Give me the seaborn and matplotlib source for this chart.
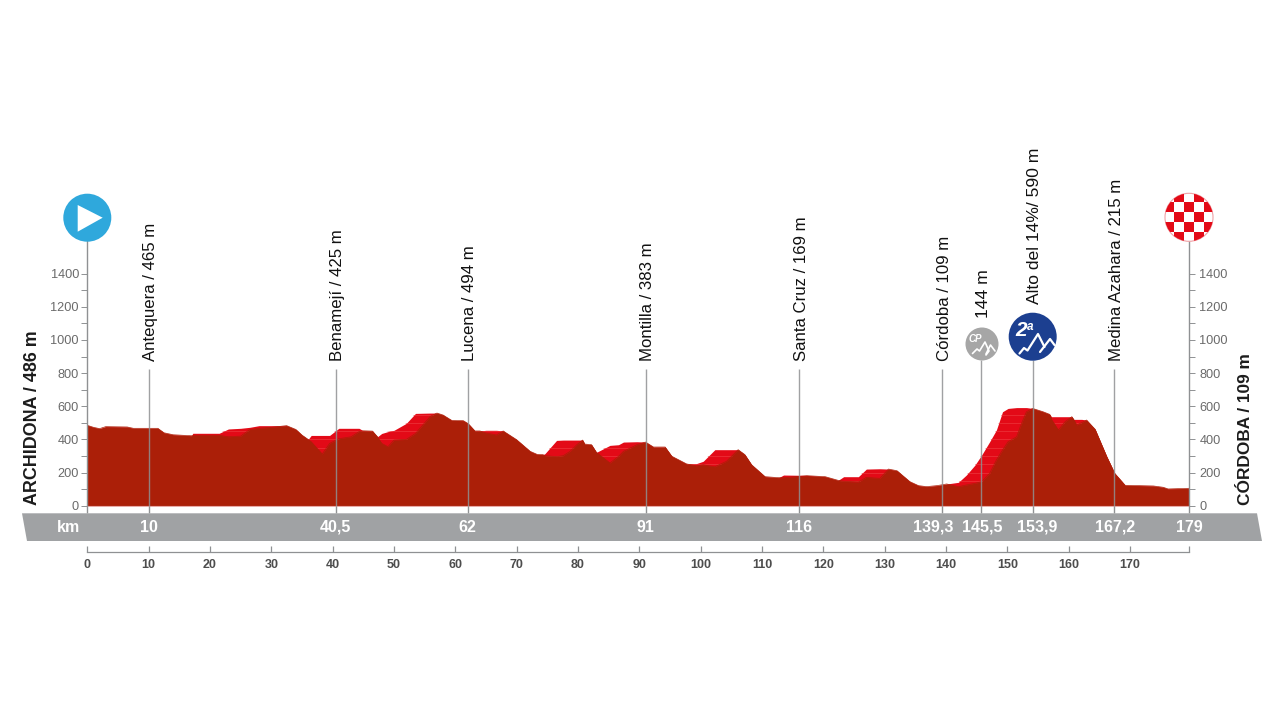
"""
Stage profile Archidona - Cordoba, elevation against distance
"""
import matplotlib
matplotlib.use("Agg")
import matplotlib.pyplot as plt
import pandas as pd
import seaborn as sns
from matplotlib.patches import Circle, Polygon, Rectangle
from matplotlib.ticker import MultipleLocator

# Profile: the bright surface and the dark front
km = [0, 1, 2, 3, 6.5, 7.5, 11.5, 12.5, 14, 17, 17.2, 21.5, 23, 25, 26.5, 28, 30, 32.5,
      34, 35, 36, 36.5, 38.3, 39.5, 41, 43, 44.3, 45, 46.5, 47.3, 48, 49, 50, 52, 53.5,
      55.9, 57, 58, 59.4, 61.3, 62.1, 63.2, 64, 65, 66.7, 67.8, 70, 72.2, 73.3, 74.3,
      74.6, 76.5, 77.6, 78.7, 79.8, 80.75, 81.1, 82.2, 83, 85.2, 86.6, 87.4, 89.6, 91,
      92.3, 94.2, 95.3, 97.7, 99.3, 100.4, 102.3, 104.2, 106.1, 107.2, 108.3, 110.5,
      112.7, 113.5, 117.3, 120.3, 122.4, 123.3, 125.7, 127, 129.2, 130.6, 132, 134.1,
      135.5, 136.8, 138.5, 140.1, 142, 143.3, 144.7, 145.8, 147.1, 148.2, 149.2, 150.1,
      151.5, 152.3, 153.1, 154.1, 155.8, 156.9, 157.2, 158.3, 159.4, 160.5, 160.8, 161.3,
      162.1, 162.9, 164.3, 166.2, 167.5, 169.2, 173.8, 175.4, 176.2, 179.6]
surface = [485, 473, 465, 477, 475, 467, 467, 440, 428, 422, 437, 437, 463, 467, 473, 483, 483, 483,
           460, 426, 400, 424, 424, 424, 467, 467, 467, 452, 450, 416, 436, 447, 455, 497, 557,
           559, 559, 547, 515, 513, 495, 451, 451, 455, 455, 451, 398, 328, 310, 308,
           314, 394, 396, 396, 396, 396, 372, 368, 322, 364, 368, 384, 386, 384,
           354, 354, 298, 252, 254, 268, 338, 338, 338, 308, 247, 175,
           169, 185, 183, 175, 153, 175, 175, 221, 223, 221, 211, 145,
           121, 115, 121, 131, 141, 185, 245, 306, 386, 457, 567, 587,
           592, 592, 592, 587, 567, 551, 537, 537, 537, 537, 521, 521,
           521, 517, 461, 296, 195, 123, 119, 111, 101, 105]
front = [485, 473, 465, 477, 475, 467, 467, 440, 428, 422, 425, 425, 416, 420, 460, 467, 473, 483,
         460, 426, 400, 386, 312, 376, 404, 416, 447, 452, 450, 416, 376, 356, 396, 400, 436,
         539, 559, 547, 515, 513, 495, 451, 451, 439, 427, 451, 398, 328, 310, 308,
         302, 296, 302, 328, 368, 396, 372, 368, 322, 258, 298, 328, 368, 384,
         354, 354, 298, 252, 241, 247, 235, 268, 338, 308, 247, 175,
         169, 169, 181, 175, 153, 147, 143, 171, 165, 221, 211, 145,
         121, 115, 121, 131, 115, 125, 135, 145, 195, 276, 336, 386,
         416, 497, 567, 587, 567, 551, 520, 457, 507, 537, 521, 487,
         501, 517, 461, 296, 195, 123, 119, 111, 101, 105]

# Intermediate points
place_names = ["Antequera / 465 m", "Benamejí / 425 m", "Lucena / 494 m", "Montilla / 383 m",
               "Santa Cruz / 169 m", "Córdoba / 109 m", "144 m", "Alto del 14%/ 590 m",
               "Medina Azahara / 215 m"]
place_km = [10, 40.5, 62, 91, 116, 139.4, 145.7, 154.1, 167.35]
place_km_labels = ["10", "40,5", "62", "91", "116", "139,3", "145,5", "153,9", "167,2"]

x_ticks = list(range(0, 180, 10))
y_ticks = list(range(0, 1500, 200))
finish_km = 179.6
gradient_levels = [50, 100, 150, 200, 250, 300, 350, 400, 450, 500, 550]

GREY_LINE = "#8f9193"
BAND_GREY = "#a0a2a4"
BRIGHT_RED = "#e30a17"
DARK_RED = "#ab1f08"

sns.set_theme(style="white")
plt.rcParams["font.family"] = ["Liberation Sans", "DejaVu Sans"]

fig = plt.figure(figsize=(12.8, 7.2), dpi=100)


def px_box(left, right, top, bottom):
    return [left / 1280, 1 - bottom / 720, (right - left) / 1280, (bottom - top) / 720]


# Overlay in pixel units for the band and the round icons
ax_px = fig.add_axes([0, 0, 1, 1], zorder=3)
ax_px.set_xlim(0, 1280)
ax_px.set_ylim(720, 0)
ax_px.axis("off")

ax = fig.add_axes(px_box(87.3, 1189, 273.7, 505.7), zorder=2)
ax.patch.set_alpha(0)
ax.set_xlim(0, finish_km)
ax.set_ylim(0, 1400)

profile = pd.DataFrame({"km": km, "surface": surface, "front": front})

# Bright surface, faint gradient lines, then the dark front on top
bright = ax.fill_between(profile["km"], 0, profile["surface"], color=BRIGHT_RED, lw=0, zorder=2)
for level in gradient_levels:
    stripe = ax.hlines(level, 0, finish_km, color="#ee3a40", lw=0.45, zorder=2.1)
    stripe.set_clip_path(bright.get_paths()[0], transform=ax.transData)
ax.fill_between(profile["km"], 0, profile["front"], color=DARK_RED, lw=0, zorder=2.2)
sns.lineplot(data=profile, x="km", y="front", color=DARK_RED, lw=0.5, ax=ax, zorder=2.15)
ax.hlines(0, 0, finish_km, color="#c9c9c9", lw=0.8, zorder=2.3)

# Vertical markers
for name, pos in zip(place_names, place_km):
    icon = pos in (145.7, 154.1)
    top = 880 if icon else 825
    ax.vlines(pos, 0, top, color=GREY_LINE, lw=1.0, alpha=0.85, zorder=2.4, clip_on=False)
    ax.vlines(pos, -46, 0, color=GREY_LINE, lw=1.0, zorder=2.4, clip_on=False)
ax.vlines([0, finish_km], -46, 1603, color=GREY_LINE, lw=1.0, zorder=2.4, clip_on=False)

label_bottom = {"144 m": 1135, "Alto del 14%/ 590 m": 1220}
label_size = {"Alto del 14%/ 590 m": 12.6, "144 m": 12.6}
for name, pos in zip(place_names, place_km):
    ax.text(pos + 0.35, label_bottom.get(name, 875), name, rotation=90, ha="center", va="bottom",
            fontsize=label_size.get(name, 12.1), color="#111111", clip_on=False)

# Elevation axes, both sides
for side_ax, side in ((ax, "left"), (ax.twinx(), "right")):
    side_ax.set_ylim(0, 1400)
    side_ax.set_yticks(y_ticks)
    side_ax.yaxis.set_minor_locator(MultipleLocator(100))
    side_ax.yaxis.set_ticks_position(side)
    side_ax.tick_params(axis="y", which="both", direction="out", length=4, width=0.7,
                        color=GREY_LINE, left=side == "left", right=side == "right")
    side_ax.tick_params(axis="y", which="major", labelsize=9.2, labelcolor="#6a6a6a",
                        pad=2 if side == "left" else 3.5)
    side_ax.grid(False)
    side_ax.set_ylabel("")
    for spine in side_ax.spines.values():
        spine.set_visible(False)

# Distance axis below the band
ax.set_xticks(x_ticks + [finish_km], labels=[str(t) for t in x_ticks] + [""])
ax.spines["bottom"].set_visible(True)
ax.spines["bottom"].set_position(("outward", 33.5))
ax.spines["bottom"].set_color(GREY_LINE)
ax.spines["bottom"].set_linewidth(0.9)
ax.tick_params(axis="x", which="major", direction="in", length=4, width=0.9, color=GREY_LINE,
               bottom=True, pad=5, labelsize=9, labelcolor="#4d4d4d")
for tick in ax.get_xticklabels():
    tick.set_fontweight("bold")
ax.set_xlabel("")
ax.set_ylabel("")

# Start and finish names
ax_px.text(33, 505, "ARCHIDONA / 486 m", rotation=90, ha="center", va="bottom",
           fontweight="bold", fontsize=12.9, color="#1c1c1c")
ax_px.text(1246, 505, "CÓRDOBA / 109 m", rotation=90, ha="center", va="bottom",
           fontweight="bold", fontsize=12.4, color="#1c1c1c")

# Grey distance band
ax_px.add_patch(Polygon([(22, 513.3), (1257, 513.3), (1262, 541), (27, 541)], color=BAND_GREY, lw=0))
ax_px.text(68, 527.5, "km", ha="center", va="center", color="white",
           fontweight="bold", fontsize=11.5)
band_nudge = {"139,3": -9, "145,5": 1, "153,9": 4.5, "167,2": 1.5}
for text, pos in zip(place_km_labels + ["179"], place_km + [finish_km]):
    x_px = 87.3 + pos * (1189 - 87.3) / finish_km + band_nudge.get(text, 0)
    ax_px.text(x_px, 527.5, text, ha="center", va="center", color="white",
               fontweight="bold", fontsize=11.5)

# Start icon
ax_px.add_patch(Circle((87.3, 217.7), 24, color="#2fa8dc", lw=0))
ax_px.add_patch(Polygon([(77.7, 205), (77.7, 231.7), (102.7, 217.7)], color="white", lw=0))

# Finish icon, chequered disc
disc = Circle((1189, 217.3), 24, facecolor="white", edgecolor="#f0a0a5", lw=0.8)
ax_px.add_patch(disc)
for row in range(-2, 3):
    for col in range(-2, 3):
        if (row + col) % 2:
            cell = Rectangle((1189 + col * 10 - 5, 217.3 + row * 10 - 5), 10, 10, color=BRIGHT_RED, lw=0)
            ax_px.add_patch(cell)
            cell.set_clip_path(disc)

# Sprint point and second category climb
ax_px.add_patch(Circle((982, 344), 16.5, color="#a6a6a6", lw=0))
ax_px.plot([972.5, 977, 979.5, 985, 989, 986], [353.5, 349, 351, 342, 351, 355], color="white", lw=1.2)
ax_px.plot([986, 990.5, 995], [354, 345, 351], color="white", lw=1.2)
ax_px.text(975, 339.5, "CP", ha="center", va="center", color="white",
           fontweight="bold", style="italic", fontsize=7)

ax_px.add_patch(Circle((1032.7, 336.7), 24, color="#1c3f90", lw=0))
ax_px.plot([1019.5, 1024, 1027.5, 1038, 1044.5], [353.5, 348, 350.5, 334, 347], color="white", lw=1.6)
ax_px.plot([1040, 1050, 1054.5], [352, 339, 345], color="white", lw=1.6)
ax_px.text(1021, 331, "2", ha="center", va="center", color="white",
           fontweight="bold", style="italic", fontsize=15)
ax_px.text(1030, 326.5, "a", ha="center", va="center", color="white",
           fontweight="bold", style="italic", fontsize=8.5)

fig.savefig("out.png", dpi=100)
